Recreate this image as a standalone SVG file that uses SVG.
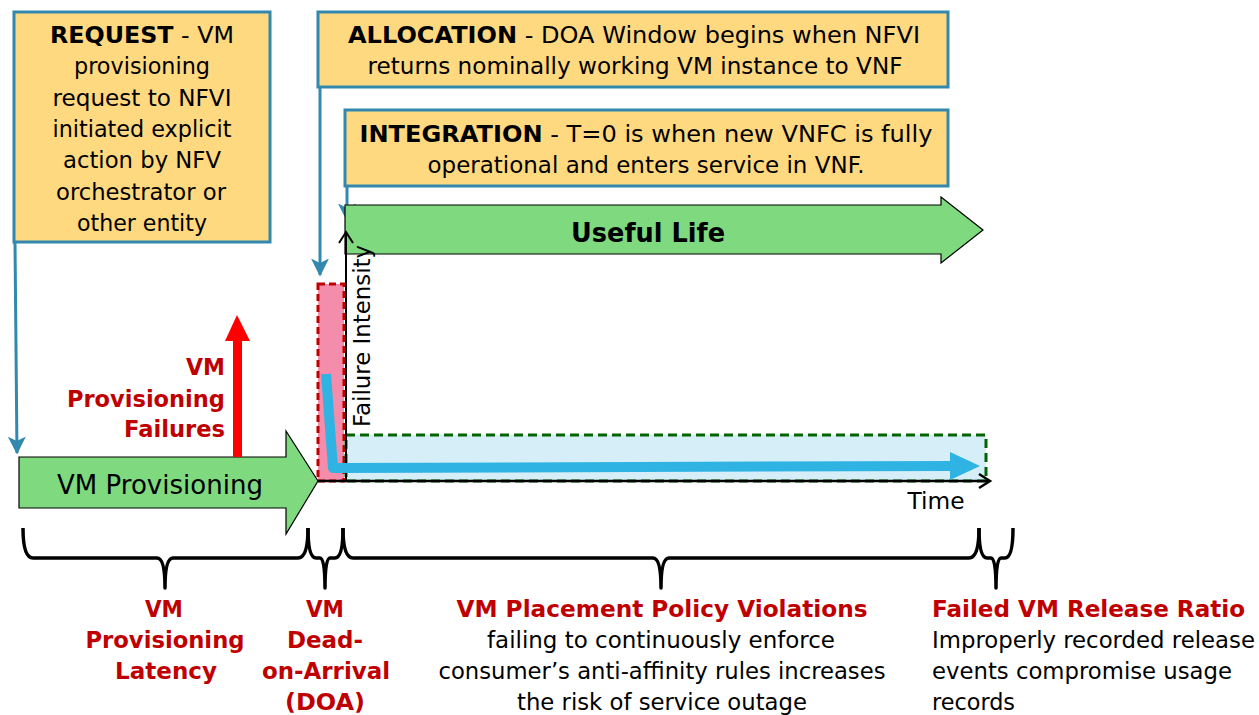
<svg xmlns="http://www.w3.org/2000/svg" width="1259" height="715" viewBox="0 0 1259 715">
<defs>
<style>
text{font-family:"DejaVu Sans",Verdana,sans-serif;font-size:23px;fill:#000}
.c{text-anchor:middle}
.b{font-weight:bold}
.r{fill:#C00000;font-weight:bold}
.box{fill:#FFD97F;stroke:#3288AE;stroke-width:3}
.conn{stroke:#3288AE;stroke-width:3;fill:none}
.brace{stroke:#000;stroke-width:3.5;fill:none;stroke-linejoin:round}
.garrow{fill:#7FD97F;stroke:#000;stroke-width:1.2}
</style>
<marker id="bh" viewBox="0 0 12 12" refX="11" refY="6" markerWidth="6" markerHeight="6" orient="auto" markerUnits="strokeWidth">
<path d="M0,0 L12,6 L0,12 L3,6 Z" fill="#3288AE"/>
</marker>
</defs>
<rect width="1259" height="715" fill="#fff"/>

<g id="connectors">
<path class="conn" d="M15,242 L17,453" marker-end="url(#bh)"/>
<path class="conn" d="M320,87 L320,275" marker-end="url(#bh)"/>
<path class="conn" d="M347,186 L347,220" marker-end="url(#bh)"/>
</g>

<g id="request">
<rect class="box" x="14" y="12" width="256" height="230"/>
<text class="c" x="142" y="43" textLength="184" lengthAdjust="spacingAndGlyphs"><tspan class="b">REQUEST</tspan> - VM</text>
<text class="c" x="142" y="74" textLength="136" lengthAdjust="spacingAndGlyphs">provisioning</text>
<text class="c" x="142" y="106" textLength="179" lengthAdjust="spacingAndGlyphs">request to NFVI</text>
<text class="c" x="142" y="137" textLength="179" lengthAdjust="spacingAndGlyphs">initiated explicit</text>
<text class="c" x="142" y="168" textLength="158" lengthAdjust="spacingAndGlyphs">action by NFV</text>
<text class="c" x="141" y="200" textLength="170" lengthAdjust="spacingAndGlyphs">orchestrator or</text>
<text class="c" x="142" y="231" textLength="130" lengthAdjust="spacingAndGlyphs">other entity</text>
</g>

<g id="allocation">
<rect class="box" x="318" y="12" width="630" height="75"/>
<text class="c" x="634" y="43" textLength="572" lengthAdjust="spacingAndGlyphs"><tspan class="b">ALLOCATION</tspan> - DOA Window begins when NFVI</text>
<text class="c" x="635" y="74" textLength="535" lengthAdjust="spacingAndGlyphs">returns nominally working VM instance to VNF</text>
</g>

<g id="integration">
<rect class="box" x="345" y="110" width="603" height="76"/>
<text class="c" x="646" y="142" textLength="573" lengthAdjust="spacingAndGlyphs"><tspan class="b">INTEGRATION</tspan> - T=0 is when new VNFC is fully</text>
<text class="c" x="646" y="173" textLength="437" lengthAdjust="spacingAndGlyphs">operational and enters service in VNF.</text>
</g>

<g id="useful-life">
<path class="garrow" d="M345,205 H941 V197 L983,230 L941,263 V254 H345 Z"/>
<text class="c b" x="648" y="242" style="font-size:26px" textLength="154" lengthAdjust="spacingAndGlyphs">Useful Life</text>
</g>

<g id="doa-bar">
<rect x="318" y="284" width="26" height="197" fill="#F48CAB" stroke="#C00000" stroke-width="3" stroke-dasharray="7,4"/>
</g>

<g id="useful-region">
<rect x="346" y="435" width="640" height="46" fill="#D6EEF8" stroke="#006400" stroke-width="3" stroke-dasharray="9,5"/>
</g>

<g id="axes">
<path d="M346,481 V233" stroke="#000" stroke-width="2" fill="none"/>
<path d="M339,243 L346,232 L353,243" stroke="#000" stroke-width="2" fill="none"/>
<path d="M318,481 H989" stroke="#000" stroke-width="2.5" fill="none"/>
<path d="M979,474 L990,481 L979,488" stroke="#000" stroke-width="2.5" fill="none"/>
<text x="370" y="336" class="c" transform="rotate(-90 370 336)" style="font-size:23px" textLength="182" lengthAdjust="spacingAndGlyphs">Failure Intensity</text>
<text x="936" y="509" class="c" style="font-size:23px" textLength="57" lengthAdjust="spacingAndGlyphs">Time</text>
</g>

<g id="failure-curve">
<path d="M326,374 L333,468 L952,466" stroke="#2FB3E3" stroke-width="10" fill="none" stroke-linejoin="round"/>
<path d="M950,452 L980,466 L950,480 Z" fill="#2FB3E3"/>
</g>

<g id="vm-provisioning">
<path class="garrow" d="M19,457 H286 V431 L318,481 L286,534 V508 H19 Z"/>
<text class="c" x="160" y="494" style="font-size:27px" textLength="206" lengthAdjust="spacingAndGlyphs">VM Provisioning</text>
</g>

<g id="prov-failures">
<path d="M233,457 V341 H225 L237,315 L250,341 H242 V457 Z" fill="#FF0000"/>
<text class="r" x="225" y="375" text-anchor="end" textLength="39" lengthAdjust="spacingAndGlyphs">VM</text>
<text class="r" x="225" y="407" text-anchor="end" textLength="158" lengthAdjust="spacingAndGlyphs">Provisioning</text>
<text class="r" x="225" y="437" text-anchor="end" textLength="101" lengthAdjust="spacingAndGlyphs">Failures</text>
</g>

<g id="braces">
<path class="brace" d="M23,528 Q23,558 33,558 H157 Q165,558 165,588 Q165,558 173,558 H298 Q308,558 308,528"/>
<path class="brace" d="M308,528 Q308,558 316,558 H320 Q325,558 325,588 Q325,558 330,558 H335 Q343,558 343,528"/>
<path class="brace" d="M343,528 Q343,558 353,558 H653 Q661,558 661,588 Q661,558 669,558 H969 Q979,558 979,528"/>
<path class="brace" d="M979,528 Q979,558 987,558 H991 Q996,558 996,588 Q996,558 1001,558 H1005 Q1013,558 1013,528"/>
</g>

<g id="label-latency">
<text class="r c" x="164" y="617" textLength="38" lengthAdjust="spacingAndGlyphs">VM</text>
<text class="r c" x="165" y="648" textLength="159" lengthAdjust="spacingAndGlyphs">Provisioning</text>
<text class="r c" x="166" y="679" textLength="102" lengthAdjust="spacingAndGlyphs">Latency</text>
</g>

<g id="label-doa">
<text class="r c" x="325" y="617" textLength="38" lengthAdjust="spacingAndGlyphs">VM</text>
<text class="r c" x="325" y="648" textLength="76" lengthAdjust="spacingAndGlyphs">Dead-</text>
<text class="r c" x="326" y="679" textLength="128" lengthAdjust="spacingAndGlyphs">on-Arrival</text>
<text class="r c" x="325" y="710" textLength="80" lengthAdjust="spacingAndGlyphs">(DOA)</text>
</g>

<g id="label-placement">
<text class="r c" x="662" y="617" textLength="411" lengthAdjust="spacingAndGlyphs">VM Placement Policy Violations</text>
<text class="c" x="661" y="648" textLength="348" lengthAdjust="spacingAndGlyphs">failing to continuously enforce</text>
<text class="c" x="662" y="679" textLength="447" lengthAdjust="spacingAndGlyphs">consumer’s anti-affinity rules increases</text>
<text class="c" x="662" y="710" textLength="290" lengthAdjust="spacingAndGlyphs">the risk of service outage</text>
</g>

<g id="label-release">
<text class="r" x="932" y="617" textLength="313" lengthAdjust="spacingAndGlyphs">Failed VM Release Ratio</text>
<text x="932" y="648" textLength="323" lengthAdjust="spacingAndGlyphs">Improperly recorded release</text>
<text x="932" y="679" textLength="300" lengthAdjust="spacingAndGlyphs">events compromise usage</text>
<text x="932" y="710" textLength="83" lengthAdjust="spacingAndGlyphs">records</text>
</g>
</svg>
